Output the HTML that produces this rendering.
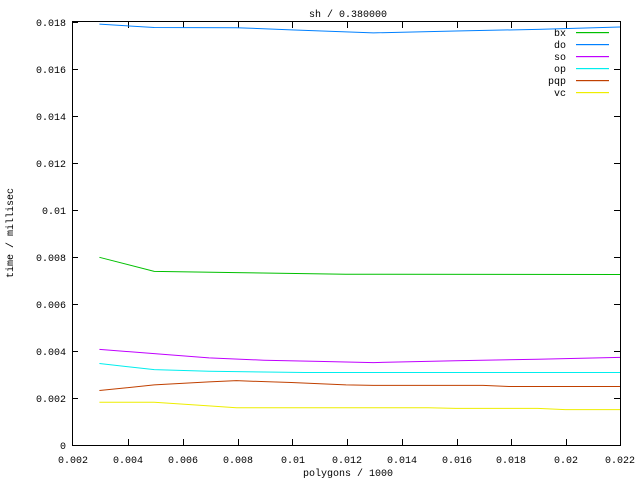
<!DOCTYPE html>
<html><head><style>
body{margin:0;background:#fff}
svg{display:block}
text{font-family:"Liberation Mono","DejaVu Sans Mono",monospace;font-size:10px;fill:#000}
</style></head><body>
<svg width="640" height="480" viewBox="0 0 640 480">
<rect x="0" y="0" width="640" height="480" fill="#fff"/>
<g stroke="#000" stroke-width="1" fill="none">
<rect x="72.5" y="21.5" width="548" height="424"/>
<path d="M72 445.5h6M72 398.5h6M72 351.5h6M72 304.5h6M72 257.5h6M72 210.5h6M72 163.5h6M72 116.5h6M72 69.5h6M72 22.5h6
M620 445.5h-6M620 398.5h-6M620 351.5h-6M620 304.5h-6M620 257.5h-6M620 210.5h-6M620 163.5h-6M620 116.5h-6M620 69.5h-6
M128.5 445v-6M183.5 445v-6M238.5 445v-6M292.5 445v-6M347.5 445v-6M402.5 445v-6M457.5 445v-6M511.5 445v-6M566.5 445v-6
M128.5 22v6M183.5 22v6M238.5 22v6M292.5 22v6M347.5 22v6M402.5 22v6M457.5 22v6M511.5 22v6M566.5 22v6"/>
</g>
<g text-anchor="end">
<text x="66" y="449">0</text><text x="66" y="402">0.002</text><text x="66" y="355">0.004</text>
<text x="66" y="308">0.006</text><text x="66" y="261">0.008</text><text x="66" y="214">0.01</text>
<text x="66" y="167">0.012</text><text x="66" y="120">0.014</text><text x="66" y="73">0.016</text><text x="66" y="26">0.018</text>
</g>
<g text-anchor="middle">
<text x="73" y="463">0.002</text><text x="128" y="463">0.004</text><text x="183" y="463">0.006</text>
<text x="238" y="463">0.008</text><text x="293" y="463">0.01</text><text x="347" y="463">0.012</text>
<text x="402" y="463">0.014</text><text x="457" y="463">0.016</text><text x="511" y="463">0.018</text>
<text x="566" y="463">0.02</text><text x="620" y="463">0.022</text>
<text x="348" y="476">polygons / 1000</text>
<text x="348" y="17">sh / 0.380000</text>
<text transform="translate(13,233) rotate(-90)">time / millisec</text>
</g>
<g text-anchor="end">
<text x="566" y="36">bx</text><text x="566" y="48">do</text><text x="566" y="60">so</text>
<text x="566" y="72">op</text><text x="566" y="84">pqp</text><text x="566" y="96">vc</text>
</g>
<rect x="576" y="32" width="33" height="1.2" fill="#00c000"/>
<rect x="576" y="44" width="33" height="1.2" fill="#0080ff"/>
<rect x="576" y="56" width="33" height="1.2" fill="#c000ff"/>
<rect x="576" y="68" width="33" height="1.2" fill="#00eeee"/>
<rect x="576" y="80" width="33" height="1.2" fill="#c04000"/>
<rect x="576" y="92" width="33" height="1.2" fill="#eeee00"/>
<g transform="translate(17.2,445.3) scale(27.4,-23.5)" fill="none" stroke-width="1">
<polyline vector-effect="non-scaling-stroke" stroke="#00c000" points="3,8 5,7.4 8,7.35 12,7.28 22,7.27"/>
<polyline vector-effect="non-scaling-stroke" stroke="#0080ff" points="3,17.92 5,17.78 8,17.77 10,17.68 13,17.55 16,17.63 19,17.7 22,17.8"/>
<polyline vector-effect="non-scaling-stroke" stroke="#c000ff" points="3,4.08 5,3.9 7,3.72 9,3.62 11,3.57 13,3.52 16,3.6 19,3.66 22,3.74"/>
<polyline vector-effect="non-scaling-stroke" stroke="#00eeee" points="3,3.48 5,3.22 7,3.15 10.5,3.1 22,3.1"/>
<polyline vector-effect="non-scaling-stroke" stroke="#c04000" points="3,2.33 5,2.57 7,2.7 8,2.75 10,2.67 12,2.57 13,2.55 17,2.55 18,2.5 22,2.5"/>
<polyline vector-effect="non-scaling-stroke" stroke="#eeee00" points="3,1.83 5,1.83 7,1.68 8,1.6 15,1.6 16,1.57 19,1.57 20,1.52 22,1.52"/>
</g>
</svg>
</body></html>
